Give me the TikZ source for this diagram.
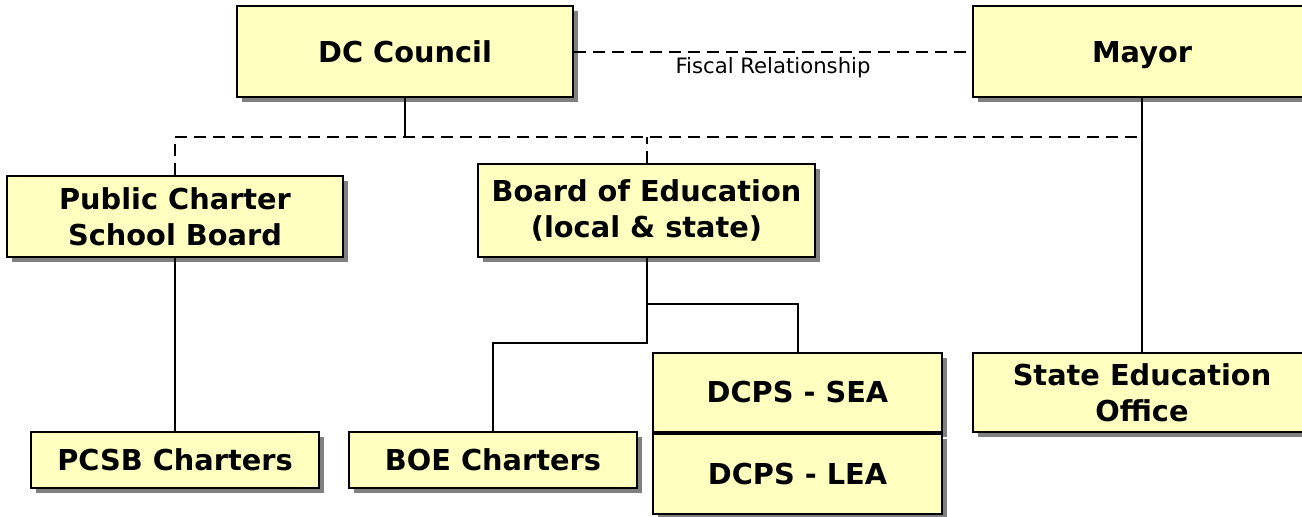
\documentclass[tikz,border=0pt]{standalone}
\usepackage{fontspec}
\setmainfont{DejaVu Sans}
\usepackage{xcolor}
\usetikzlibrary{positioning}
\usetikzlibrary{shadows}
\definecolor{boxyellow}{RGB}{255,255,192}

\begin{document}
\begin{tikzpicture}[x=0.5pt, y=-0.5pt, line width=1pt,
    unit/.style = {draw, fill=boxyellow, rectangle, inner sep=0pt, align=center,
      font=\fontsize{14.4}{18}\selectfont\bfseries,
      drop shadow={shadow xshift=2.5pt, shadow yshift=-2.5pt, fill=gray, opacity=1}},
    fiscal/.style = {dash pattern=on 6pt off 3.5pt}
    ]
    \clip (0,0) rectangle (1302,516);

    \node[unit, minimum width=168pt, minimum height=45.5pt] (council) at (405,51.5) {DC Council};
    \node[unit, minimum width=169pt, minimum height=45.5pt, text depth=0pt] (mayor) at (1142,51.5) {Mayor};
    \node[unit, minimum width=168pt, minimum height=40.5pt] (pcsboard) at (175,216.5) {Public Charter\\School Board};
    \node[unit, minimum width=168.5pt, minimum height=46.5pt] (boe) at (646.5,210.5) {Board of Education\\(local \& state)};
    \node[unit, minimum width=169pt, minimum height=39.5pt] (seo) at (1142,392.5) {State Education\\Office};
    \node[unit, minimum width=144.5pt, minimum height=39.5pt] (sea) at (797.5,392.5) {DCPS - SEA};
    \node[unit, minimum width=144.5pt, minimum height=40pt, below=0pt of sea] (lea) {DCPS - LEA};
    \node[unit, minimum width=144pt, minimum height=28pt] (pcsbch) at (175,460) {PCSB Charters};
    \node[unit, minimum width=144pt, minimum height=28pt] (boech) at (493,460) {BOE Charters};

    \coordinate (cbar) at (405,137);
    \coordinate (boesplit) at (646.5,304);
    \coordinate (boelow) at (646.5,343);

    \draw[fiscal] (council) -- (mayor)
      node[midway, yshift=-8pt, font=\fontsize{10.6}{12}\selectfont] {Fiscal Relationship};
    \draw (council) -- (cbar);
    \draw[fiscal] (pcsboard) |- (mayor.south |- cbar);
    \draw[fiscal] (boe) -- (boe.north |- cbar);
    \draw (mayor) -- (seo);
    \draw (pcsboard) -- (pcsbch);
    \draw (boe) -- (boelow) -| (boech);
    \draw (boesplit) -| (sea);
\end{tikzpicture}
\end{document}
